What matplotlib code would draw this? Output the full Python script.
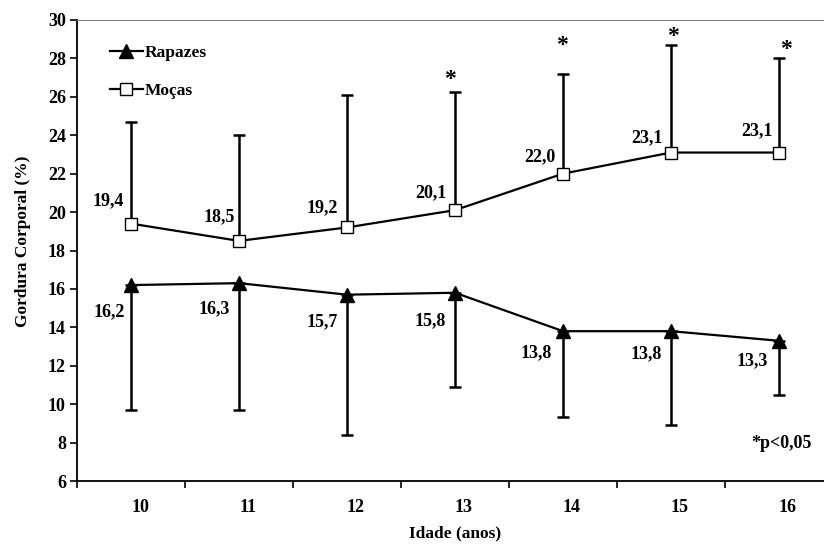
import numpy as np
import matplotlib
matplotlib.use("Agg")
import matplotlib.pyplot as plt
import matplotlib.transforms as mtransforms

plt.rcParams['font.family'] = ['Liberation Serif', 'DejaVu Serif']
plt.rcParams['font.weight'] = 'bold'

# data
idades = ['10', '11', '12', '13', '14', '15', '16']
rapazes = [16.2, 16.3, 15.7, 15.8, 13.8, 13.8, 13.3]
rapazes_inf = [9.7, 9.7, 8.4, 10.9, 9.35, 8.9, 10.5]     # lower end of error bar
mocas = [19.4, 18.5, 19.2, 20.1, 22.0, 23.1, 23.1]
mocas_sup = [24.7, 24.0, 26.1, 26.25, 27.2, 28.7, 28.0]  # upper end of error bar
signif = [False, False, False, True, True, True, True]

# label offsets (pixels, relative to the marker)
off_rap = [(-22, -27), (-25, -26), (-25, -27), (-25, -28), (-27, -22), (-25, -23), (-27, -20)]
off_moc = [(-23, 23), (-20, 24), (-25, 20), (-24, 17), (-23, 17), (-24, 15), (-22, 22)]
# asterisk offsets (pixels, relative to top of error bar)
off_ast = [None, None, None, (-5, 13), (-1, 28), (2, 8), (7, 9)]

x = np.arange(len(idades))

fig = plt.figure(figsize=(8.24, 5.44), dpi=100)
ax = fig.add_axes([77 / 824, 1 - 481 / 544, 756 / 824, 461 / 544])

# error bars (one-sided)
r = np.array(rapazes)
m = np.array(mocas)
ax.errorbar(x, r, yerr=[r - np.array(rapazes_inf), np.zeros_like(r)], fmt='none',
            ecolor='black', elinewidth=1.8, capsize=4, capthick=1.8, zorder=2)
ax.errorbar(x, m, yerr=[np.zeros_like(m), np.array(mocas_sup) - m], fmt='none',
            ecolor='black', elinewidth=1.8, capsize=4, capthick=1.8, zorder=2)

ax.plot(x, rapazes, color='black', lw=1.6, marker='^', markersize=10,
        markerfacecolor='black', markeredgecolor='black', label='Rapazes', zorder=3)
ax.plot(x, mocas, color='black', lw=1.6, marker='s', markersize=8.5,
        markerfacecolor='white', markeredgecolor='black', markeredgewidth=1.0,
        label='Moças', zorder=3)

for i in range(len(x)):
    ax.annotate(f"{rapazes[i]:.1f}".replace('.', ','), (x[i], rapazes[i]),
                xytext=off_rap[i], textcoords='offset pixels', ha='center', va='center',
                fontsize=13, fontweight='bold')
    ax.annotate(f"{mocas[i]:.1f}".replace('.', ','), (x[i], mocas[i]),
                xytext=off_moc[i], textcoords='offset pixels', ha='center', va='center',
                fontsize=13, fontweight='bold')
    if signif[i]:
        ax.annotate('*', (x[i], mocas_sup[i]), xytext=off_ast[i], textcoords='offset pixels',
                    ha='center', va='center', fontsize=17, fontweight='bold')

ax.text((781 - 77) / 756, (481 - 443) / 461, '*p<0,05', transform=ax.transAxes,
        ha='center', va='center', fontsize=13, fontweight='bold')

ax.set_xlim(-0.5, 6.5)
ax.set_ylim(6, 30)
ax.set_yticks(np.arange(6, 31, 2))
ax.set_xticks(np.arange(-0.5, 7, 1))
ax.set_xticklabels([])
ax.set_xticks(x, minor=True)
ax.set_xticklabels(idades, minor=True)
ax.tick_params(axis='x', which='major', direction='out', length=5, width=1.2)
ax.tick_params(axis='x', which='minor', length=0, pad=13, labelsize=13)
ax.tick_params(axis='y', direction='out', length=5, width=1.2, labelsize=13, pad=3)
shift = mtransforms.ScaledTranslation(9 / 100, 0, fig.dpi_scale_trans)
for lab in ax.xaxis.get_minorticklabels():
    lab.set_transform(lab.get_transform() + shift)
for lab in ax.get_xticklabels(which='both') + ax.get_yticklabels():
    lab.set_fontweight('bold')

ax.spines['right'].set_visible(False)
ax.spines['top'].set_color('#808080')
ax.spines['left'].set_linewidth(1.3)
ax.spines['bottom'].set_linewidth(1.3)

fig.text(23 / 824, 1 - 241 / 544, 'Gordura Corporal (%)', rotation=90, ha='center',
         va='center', fontsize=12.5, fontweight='bold')
fig.text(455 / 824, 1 - 533 / 544, 'Idade (anos)', ha='center', va='center',
         fontsize=12.5, fontweight='bold')

leg = ax.legend(loc='upper left', bbox_to_anchor=(0.027, 0.972), frameon=False,
                prop={'weight': 'bold', 'size': 12.5}, handlelength=1.9,
                handletextpad=0.1, labelspacing=1.25, borderpad=0.2)

fig.savefig('out.png', dpi=100)
